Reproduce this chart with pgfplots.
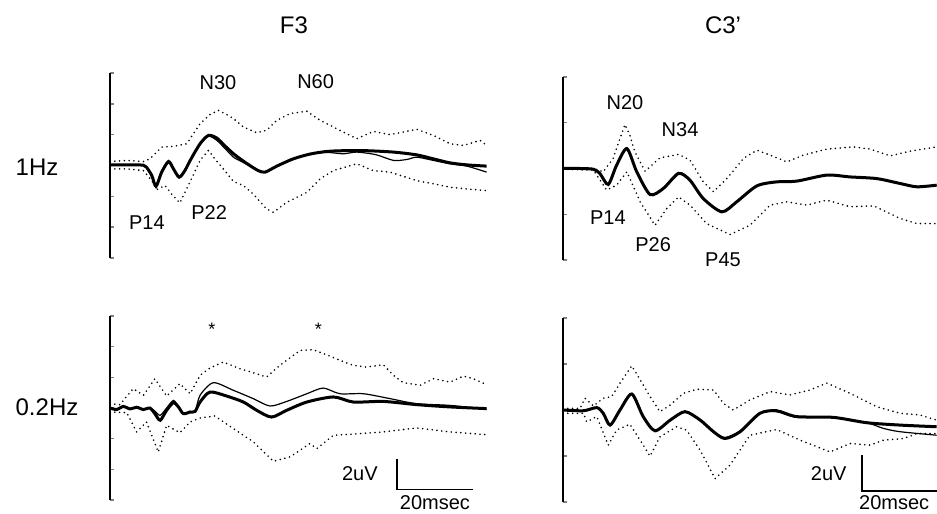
\documentclass[border=0pt]{standalone}
\usepackage{fontspec}
\setmainfont{Liberation Sans}
\usepackage{pgfplots}
\pgfplotsset{compat=1.18}

\pgfplotsset{
  erp/.style={
    scale only axis,
    hide x axis,
    axis y line*=left,
    yticklabels={},
    tick align=inside,
    major tick length=2pt,
    y axis line style={line width=0.9pt},
    ytick style={line width=0.7pt},
    xmin=0,
    clip mode=individual,
  },
  mean/.style={black, line width=1.5pt, smooth, tension=0.45},
  thin/.style={black, line width=0.6pt, smooth, tension=0.45},
  sd/.style={black, line width=0.9pt, line cap=round, dash pattern=on 0pt off 2.4pt},
}
\newcommand{\lab}{\fontsize{10}{12}\selectfont}

\begin{document}
\begin{tikzpicture}
\path[use as bounding box] (0,0) rectangle (468.5pt,-257pt);

\node[font=\fontsize{12}{14}\selectfont] at (147pt,-12.75pt) {F3};
\node[font=\fontsize{12}{14}\selectfont] at (361.5pt,-12.75pt) {C3’};
\node[font=\fontsize{12}{14}\selectfont] at (18.5pt,-83.8pt) {1Hz};
\node[font=\fontsize{12}{14}\selectfont] at (23.5pt,-203.8pt) {0.2Hz};

% ---------- F3, 1Hz
\begin{axis}[erp, at={(55pt,-129pt)}, anchor=south west,
  width=188.5pt, height=92.5pt, xmax=99.2, ymin=-6, ymax=6, ytick={-6,-4,...,6}]
\addplot[sd] coordinates {(0,0.26)(4.4,0.33)(8.8,0.26)(10.5,0.43)(12.3,0.87)(13.6,1.19)(16.7,1.24)(20.2,1.41)(23.7,2.71)(26.3,3.30)(28.5,3.58)(30.7,3.30)(32.5,3.04)(35.1,2.50)(38.6,2.13)(41.2,2.28)(43.9,2.93)(47.4,3.37)(51.8,3.52)(55.3,2.93)(60.5,2.28)(64.9,1.74)(69.3,2.21)(73.7,2.00)(80.7,2.35)(85.1,1.95)(89.5,1.41)(93.0,1.30)(97.4,1.63)(99.1,1.30)};
\addplot[sd] coordinates {(0,-0.22)(4.4,-0.22)(8.8,-0.33)(11.0,-0.98)(12.3,-1.56)(14.5,-1.30)(16.2,-1.85)(18.4,-2.43)(20.6,-1.30)(23.7,0.33)(25.9,0.98)(27.6,0.43)(29.8,-0.22)(32.5,-1.04)(35.1,-1.30)(37.7,-1.85)(41.2,-2.82)(43.0,-3.04)(46.5,-2.39)(51.8,-1.74)(55.3,-0.87)(58.8,-0.33)(64.9,0.11)(69.3,-0.33)(73.7,-0.43)(80.7,-0.98)(85.1,-1.19)(89.5,-1.41)(93.9,-1.52)(99.1,-1.63)};
\addplot[thin] coordinates {(0,0.04)(6.1,0.04)(8.8,0.02)(9.6,-0.11)(11.0,-0.65)(12.1,-1.3)(13.6,-0.43)(15.4,0.26)(16.7,-0.22)(18.2,-0.72)(19.7,-0.33)(21.1,0.33)(23.7,1.35)(25.9,1.9)(28.1,1.63)(30.3,1.09)(32.5,0.54)(34.6,0.26)(36.8,-0.04)(39.0,-0.33)(40.8,-0.43)(43.9,-0.04)(48.2,0.43)(52.6,0.74)(57.0,0.85)(61.4,0.76)(64.9,0.87)(70.0,0.70)(74.6,0.33)(78.1,0.39)(80.7,0.54)(85.1,0.33)(89.5,0.11)(93.9,-0.04)(99.1,-0.43)};
\addplot[mean] coordinates {(0,0.04)(2.6,0.04)(6.1,0.04)(8.8,0.02)(9.6,-0.11)(11.0,-0.65)(12.1,-1.35)(13.6,-0.43)(15.4,0.26)(16.7,-0.22)(18.2,-0.76)(19.7,-0.33)(21.1,0.33)(23.7,1.41)(25.9,1.95)(28.1,1.78)(30.3,1.26)(32.5,0.76)(34.6,0.37)(36.8,0)(39.0,-0.33)(40.8,-0.43)(43.9,-0.04)(48.2,0.43)(52.6,0.74)(57.0,0.91)(61.4,0.96)(67.5,0.96)(74.6,0.87)(80.7,0.69)(85.1,0.43)(89.5,0.17)(93.9,0.04)(99.1,-0.04)};
\node[font=\lab] at (28.4,5.4) {N30};
\node[font=\lab] at (54.1,5.45) {N60};
\node[font=\lab] at (9.7,-3.7) {P14};
\node[font=\lab] at (26.1,-3.05) {P22};
\end{axis}

% ---------- C3', 1Hz
\begin{axis}[erp, at={(281.5pt,-130pt)}, anchor=south west,
  width=187pt, height=91.5pt, xmax=98.4, ymin=-5, ymax=5, ytick={-5,-2.5,0,2.5,5}]
\addplot[sd] coordinates {(0,0)(8.0,0)(10.6,-0.18)(13.2,0.55)(15.0,1.64)(16.3,2.40)(17.6,1.82)(18.9,0.91)(21.6,-0.15)(23.8,0.27)(25.5,0.58)(30.4,0.77)(33.4,0.46)(36.9,-0.73)(39.6,-1.27)(43.1,-0.55)(47.5,0.55)(51.0,1.00)(54.5,0.73)(58.9,0.36)(63.2,0.73)(69.4,1.06)(76.4,1.18)(80.8,1.06)(86.1,0.69)(91.3,0.95)(98.3,1.18)};
\addplot[sd] coordinates {(0,-0.04)(8.0,-0.09)(11.5,-1.18)(14.1,-0.91)(16.8,-0.18)(20.3,-1.82)(24.2,-3.10)(27.3,-2.19)(30.4,-1.55)(33.4,-2.00)(37.8,-3.01)(43.9,-3.61)(49.2,-3.10)(54.5,-2.00)(58.9,-1.82)(64.1,-2.00)(69.4,-1.73)(75.5,-2.09)(81.7,-2.04)(88.7,-2.73)(93.1,-3.01)(98.3,-3.01)};
\addplot[thin] coordinates {(0,0)(4.5,0)(8.0,-0.04)(9.7,-0.27)(11.9,-0.87)(14.1,0.18)(16.8,1.09)(19.4,-0.18)(22.9,-1.42)(26.4,-1.05)(30.4,-0.22)(33.4,-0.60)(36.9,-1.64)(41.8,-2.33)(45.7,-1.80)(51.0,-0.95)(56.2,-0.73)(61.5,-0.69)(69.4,-0.36)(75.5,-0.46)(82.5,-0.55)(88.7,-0.82)(93.1,-1.0)(98.3,-0.91)};
\addplot[mean] coordinates {(0,0)(4.5,0)(8.0,-0.04)(9.7,-0.27)(11.9,-0.87)(14.1,0.18)(16.8,1.09)(19.4,-0.18)(22.9,-1.42)(26.4,-1.09)(30.4,-0.27)(33.4,-0.64)(36.9,-1.64)(41.8,-2.37)(45.7,-1.82)(51.0,-0.95)(56.2,-0.73)(61.5,-0.69)(69.4,-0.36)(75.5,-0.46)(82.5,-0.55)(88.7,-0.82)(93.1,-1.0)(98.3,-0.91)};
\node[font=\lab] at (16.3,3.58) {N20};
\node[font=\lab] at (30.8,2.1) {N34};
\node[font=\lab] at (11.8,-2.7) {P14};
\node[font=\lab] at (23.7,-4.18) {P26};
\node[font=\lab] at (42.1,-5.0) {P45};
\end{axis}

% ---------- F3, 0.2Hz
\begin{axis}[erp, at={(55pt,-250pt)}, anchor=south west,
  width=188.5pt, height=92pt, xmax=99.2, ymin=-6, ymax=6, ytick={-6,-4,...,6}]
\addplot[sd] coordinates {(0,0.28)(2.6,0.22)(6.1,1.26)(8.8,0.83)(11.8,1.91)(14.9,0.78)(18.4,1.59)(21.1,0.93)(23.7,2.13)(26.3,2.61)(29.8,3.00)(34.2,2.56)(37.7,2.30)(41.2,2.02)(44.7,2.78)(50.0,3.76)(53.5,3.80)(57.0,3.47)(60.5,3.11)(64.0,2.78)(67.5,2.67)(71.9,2.82)(74.6,2.13)(77.2,1.65)(81.6,1.48)(85.1,1.91)(89.5,1.69)(93.0,2.08)(95.6,1.91)(99.1,1.52)};
\addplot[sd] coordinates {(0,-0.26)(4.4,-0.30)(7.0,-1.56)(9.6,-0.91)(12.7,-2.87)(14.9,-1.13)(18.4,-1.61)(21.1,-0.91)(23.7,-0.65)(27.6,-0.52)(32.5,-1.35)(37.7,-2.21)(43.0,-3.47)(47.4,-3.19)(52.6,-2.32)(54.4,-2.65)(58.8,-1.78)(65.8,-1.67)(71.9,-1.56)(80.7,-1.30)(89.5,-1.56)(99.1,-1.74)};
\addplot[thin] coordinates {(0,0)(1.75,-0.1)(3.5,0.1)(5.3,-0.06)(7.0,0.05)(8.8,-0.1)(10.5,0)(11.8,-0.2)(13.2,-0.48)(14.9,0)(16.7,0.50)(18.0,0.07)(19.3,-0.37)(21.1,-0.26)(22.4,-0.22)(23.7,0.83)(27.2,1.65)(32.5,1.15)(37.7,0.61)(42.1,0.13)(46.5,0.43)(51.8,0.93)(56.1,1.30)(60.5,0.93)(66.7,0.93)(73.7,0.61)(80.7,0.28)(89.5,0.17)(99.1,-0.09)};
\addplot[mean] coordinates {(0,0)(1.75,-0.1)(3.5,0.1)(5.3,-0.06)(7.0,0.05)(8.8,-0.1)(10.5,0)(11.8,-0.37)(13.2,-0.80)(14.9,-0.15)(16.7,0.35)(18.0,0.07)(19.3,-0.37)(21.1,-0.26)(22.4,-0.22)(23.7,0.39)(26.3,1.04)(30.7,0.78)(35.1,0.39)(38.6,-0.15)(42.5,-0.59)(46.5,-0.15)(51.8,0.39)(58.8,0.72)(64.0,0.39)(71.9,0.43)(80.7,0.22)(89.5,0.07)(99.1,-0.04)};
\node[font=\fontsize{9}{10}\selectfont] at (26.8,5.13) {*};
\node[font=\fontsize{9}{10}\selectfont] at (54.8,5.13) {*};
\draw[line width=0.7pt] (75.5,-3.3) -- (75.5,-5.3) -- (95.5,-5.3);
\node[font=\lab, anchor=east] at (72.3,-4.3) {2uV};
\node[font=\lab] at (85.5,-6.2) {20msec};
\end{axis}

% ---------- C3', 0.2Hz
\begin{axis}[erp, at={(281.5pt,-251pt)}, anchor=south west,
  width=187pt, height=92pt, xmax=98.4, ymin=-5, ymax=5, ytick={-5,-2.5,0,2.5,5}]
\addplot[sd] coordinates {(0,0.09)(4.5,0.09)(5.8,0.64)(8.0,0.22)(10.6,0.64)(12.8,0.73)(15.0,1.46)(18.1,2.40)(20.3,1.64)(22.9,0.73)(25.5,-0.09)(28.2,0.27)(31.7,0.91)(35.2,1.13)(39.6,1.09)(42.2,0.36)(44.8,0)(49.2,0.55)(54.5,1.00)(59.7,0.82)(65.0,1.09)(69.4,1.46)(75.5,0.91)(82.5,0.18)(88.7,-0.18)(93.9,-0.27)(98.3,-0.55)};
\addplot[sd] coordinates {(0,-0.18)(5.4,-0.18)(6.2,-0.64)(8.9,-0.36)(11.9,-1.91)(14.1,-1.09)(17.6,-0.77)(21.1,-1.91)(22.9,-2.51)(25.5,-1.46)(29.9,-0.91)(32.5,-1.09)(36.1,-2.19)(40.0,-3.73)(43.9,-3.00)(49.2,-1.37)(56.2,-1.06)(62.4,-1.64)(70.3,-2.28)(75.5,-1.82)(80.8,-1.91)(84.3,-1.64)(89.6,-1.55)(93.1,-1.28)(98.3,-1.28)};
\addplot[thin] coordinates {(0,0)(5.4,-0.04)(8.9,0.13)(10.6,-0.18)(12.4,-0.82)(15.0,0)(18.1,0.87)(21.1,-0.36)(24.2,-1.13)(28.2,-0.55)(32.1,-0.09)(36.1,-0.55)(39.6,-1.18)(42.6,-1.50)(46.6,-1.13)(51.8,-0.18)(56.2,-0.09)(61.5,-0.40)(71.1,-0.40)(79.9,-0.69)(84.3,-1.0)(88.7,-1.18)(98.3,-1.37)};
\addplot[mean] coordinates {(0,0)(5.4,-0.04)(8.9,0.13)(10.6,-0.18)(12.4,-0.82)(15.0,0)(18.1,0.87)(21.1,-0.36)(24.2,-1.13)(28.2,-0.55)(32.1,-0.09)(36.1,-0.55)(39.6,-1.18)(42.6,-1.55)(46.6,-1.18)(51.8,-0.18)(56.2,-0.04)(61.5,-0.36)(71.1,-0.40)(79.9,-0.69)(88.7,-0.82)(98.3,-0.91)};
\draw[line width=0.7pt] (78.7,-2.45) -- (78.7,-4.4) -- (99,-4.4);
\node[font=\lab] at (69.9,-3.48) {2uV};
\node[font=\lab, anchor=east] at (98.2,-5.05) {20msec};
\end{axis}
\end{tikzpicture}
\end{document}
